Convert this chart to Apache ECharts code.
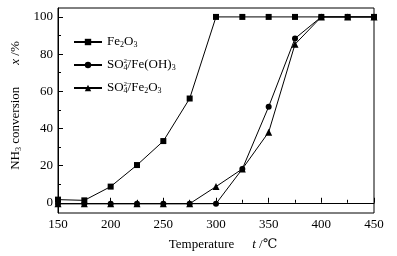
<!DOCTYPE html>
<html><head><meta charset="utf-8">
<script src="https://cdn.jsdelivr.net/npm/echarts@6/dist/echarts.min.js"></script>
<style>html,body{margin:0;padding:0;background:#fff}#c{width:397px;height:256px}</style>
</head><body><div id="c"></div>
<script>
const temps = [150,175,200,225,250,275,300,325,350,375,400,425,450];
const fe2o3 = [1.7,1.3,8.7,20.3,33.2,56.1,100,100,100,100,100,100,100];
const so4FeOH3 = [-0.5,-0.5,-0.5,-0.5,-0.5,-0.5,-0.5,18.2,51.7,88.4,100,100,100];
const so4Fe2O3 = [-0.5,-0.5,-0.5,-0.5,-0.5,-0.5,8.7,18.2,38.0,85.3,100,100,100];
const yTicks = [0,20,40,60,80,100];
const yMinorTicks = [10,30,50,70,90];
const seriesNames = ['Fe2O3','SO4/Fe(OH)3','SO4/Fe2O3'];
const legendRich = {
  'Fe2O3': '{n|Fe}{s|2}{n|O}{s|3}',
  'SO4/Fe(OH)3': '{n|SO}{p|2−}{s|4}{n|/Fe(OH)}{s|3}',
  'SO4/Fe2O3': '{n|SO}{p|2−}{s|4}{n|/Fe}{s|2}{n|O}{s|3}'
};
const FONT = '"Liberation Serif","DejaVu Serif",serif';
const chart = echarts.init(document.getElementById('c'), null, {renderer:'canvas'});
const pair = arr => temps.map((t,i)=>[t,arr[i]]);
const mk = (name, data, sym, size) => ({
  name, type:'line', data: pair(data), symbol: sym, symbolSize: size,
  lineStyle:{color:'#000',width:1}, itemStyle:{color:'#000'}, animation:false
});
const yBase = {type:'value', min:-5.5, max:104.8, splitLine:{show:false}};
chart.setOption({
  backgroundColor:'#fff',
  animation:false,
  grid:{left:58,right:23,top:8,bottom:40,show:true,borderColor:'#000',borderWidth:1,backgroundColor:'transparent'},
  legend:{
    orient:'vertical', left:73, top:35, padding:0, itemGap:9, itemWidth:28, itemHeight:8,
    data: seriesNames,
    formatter: n => legendRich[n],
    textStyle:{fontFamily:FONT, fontSize:13, color:'#000',
      rich:{
        n:{fontFamily:FONT,fontSize:13,color:'#000',lineHeight:14},
        s:{fontFamily:FONT,fontSize:8,color:'#000',verticalAlign:'bottom',lineHeight:14,padding:[6,0,0,0]},
        p:{fontFamily:FONT,fontSize:7,color:'#000',verticalAlign:'top',lineHeight:14,width:0,padding:[0,0,6,0]}
      }}
  },
  xAxis:{
    type:'value', min:150, max:450, interval:50,
    axisLine:{lineStyle:{color:'#000'}},
    axisTick:{inside:true,length:5,lineStyle:{color:'#000'}},
    minorTick:{show:true,splitNumber:2,length:3,lineStyle:{color:'#000'}},
    splitLine:{show:false},
    axisLabel:{color:'#000',fontFamily:FONT,fontSize:13,margin:5},
    name:'{a|Temperature}{g|}{i|t}{a| /℃}', nameLocation:'middle', nameGap:25,
    nameTextStyle:{fontFamily:FONT,fontSize:13,color:'#000',padding:[0,0,0,14],
      rich:{a:{fontFamily:FONT,fontSize:13,color:'#000'},g:{width:18},i:{fontFamily:FONT,fontSize:13,color:'#000',fontStyle:'italic'}}}
  },
  yAxis:[Object.assign({}, yBase, {
    axisLine:{lineStyle:{color:'#000'}},
    axisTick:{inside:true,length:5,lineStyle:{color:'#000'},customValues:yTicks},
    axisLabel:{color:'#000',fontFamily:FONT,fontSize:13,margin:5,customValues:yTicks},
    name:'{a|NH}{s|3}{a| conversion}{g|}{i|x}{a| /%}', nameLocation:'middle', nameGap:24, nameRotate:90,
    nameTextStyle:{fontFamily:FONT,fontSize:13,color:'#000',padding:[0,0,0,10],
      rich:{a:{fontFamily:FONT,fontSize:13,color:'#000',lineHeight:15},
            g:{width:22},
            s:{fontFamily:FONT,fontSize:8,color:'#000',verticalAlign:'bottom',lineHeight:15,padding:[6,0,0,0]},
            i:{fontFamily:FONT,fontSize:13,color:'#000',fontStyle:'italic',lineHeight:15}}}
  }), Object.assign({}, yBase, {
    position:'left',
    axisLine:{show:false},
    axisTick:{inside:true,length:3,lineStyle:{color:'#000'},customValues:yMinorTicks},
    axisLabel:{show:false}
  })],
  series:[
    mk(seriesNames[0], fe2o3, 'rect', 6),
    mk(seriesNames[1], so4FeOH3, 'circle', 6),
    mk(seriesNames[2], so4Fe2O3, 'triangle', 7)
  ]
});
</script></body></html>
